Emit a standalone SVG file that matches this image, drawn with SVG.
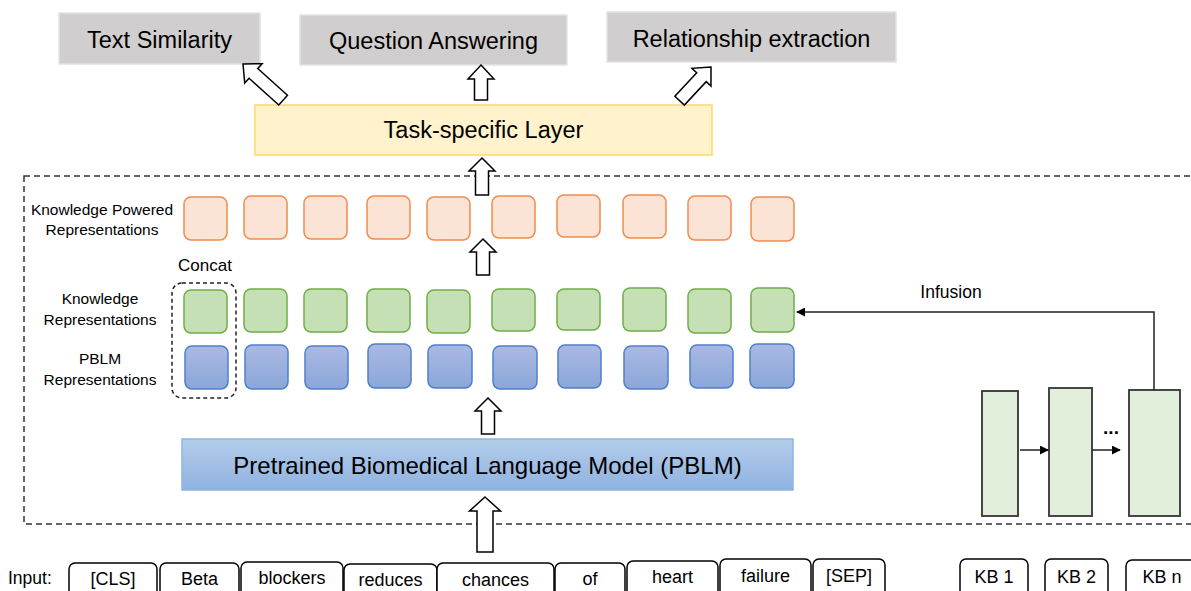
<svg xmlns="http://www.w3.org/2000/svg" width="1191" height="591" viewBox="0 0 1191 591">
  <defs>
    <linearGradient id="gradBlue" x1="0" y1="0" x2="0" y2="1">
      <stop offset="0" stop-color="#aab9e2"/>
      <stop offset="1" stop-color="#8ba6da"/>
    </linearGradient>
    <linearGradient id="gradModel" x1="0" y1="0" x2="0" y2="1">
      <stop offset="0" stop-color="#b4cdea"/>
      <stop offset="1" stop-color="#8fb2e0"/>
    </linearGradient>
    <marker id="tri" viewBox="0 0 10 10" refX="9" refY="5" markerWidth="9" markerHeight="9" markerUnits="userSpaceOnUse" orient="auto">
      <path d="M0,0 L10,5 L0,10 z" fill="#000"/>
    </marker>
  </defs>
  <style>
    text { font-family: "Liberation Sans", Arial, sans-serif; fill: #000; }
    .task { fill: #d0cece; stroke: #e3e3e3; stroke-width: 1.5; }
    .big { font-size: 23.5px; text-anchor: middle; }
    .lbl { font-size: 15.5px; text-anchor: middle; }
    .tok { fill: #fff; stroke: #000; stroke-width: 1.5; }
    .tokt { font-size: 18px; text-anchor: middle; }
    .orange { fill: #fbe4d5; stroke: #f08c4c; stroke-width: 1.5; }
    .green { fill: #c5e0b4; stroke: #70ad47; stroke-width: 1.5; }
    .blue { fill: url(#gradBlue); stroke: #4f7fcc; stroke-width: 1.5; }
    .kb { fill: #e2efda; stroke: #333; stroke-width: 1.8; }
    .barrow { fill: #fff; stroke: #000; stroke-width: 1.5; stroke-linejoin: miter; }
    .dash { fill: none; stroke: #333; stroke-width: 1.5; stroke-dasharray: 6 4; }
    .line { fill: none; stroke: #222; stroke-width: 1.5; }
  </style>

  <rect width="1191" height="591" fill="#fff"/>

  <!-- outer knowledge infusion frame -->
  <rect class="dash" x="24" y="176" width="1200" height="348"/>

  <!-- downstream tasks -->
  <g id="task-text-similarity">
    <rect class="task" x="59" y="13" width="201" height="51"/>
    <text class="big" x="159.5" y="48">Text Similarity</text>
  </g>
  <g id="task-question-answering">
    <rect class="task" x="300" y="15" width="267" height="50"/>
    <text class="big" x="433.5" y="49">Question Answering</text>
  </g>
  <g id="task-relationship-extraction">
    <rect class="task" x="607" y="12" width="289" height="50"/>
    <text class="big" x="751.5" y="47">Relationship extraction</text>
  </g>

  <g id="task-layer">
    <rect x="255" y="105" width="457" height="50" fill="#fff2cc" stroke="#ffd966" stroke-width="1.5"/>
    <text class="big" x="483.5" y="138">Task-specific Layer</text>
  </g>

  <!-- row labels -->
  <g id="labels">
    <text class="lbl" x="102" y="215">Knowledge Powered</text>
    <text class="lbl" x="102" y="235">Representations</text>
    <text class="lbl" x="100" y="304">Knowledge</text>
    <text class="lbl" x="100" y="325">Representations</text>
    <text class="lbl" x="100" y="364">PBLM</text>
    <text class="lbl" x="100" y="385">Representations</text>
    <text x="205" y="271" font-size="17" text-anchor="middle">Concat</text>
  </g>

  <!-- knowledge powered representations -->
  <g id="knowledge-powered-reps">
    <rect class="orange" x="184" y="197" width="43" height="43" rx="7"/>
    <rect class="orange" x="244" y="196" width="43" height="43" rx="7"/>
    <rect class="orange" x="304" y="196" width="43" height="43" rx="7"/>
    <rect class="orange" x="367" y="196" width="43" height="43" rx="7"/>
    <rect class="orange" x="427" y="197" width="43" height="43" rx="7"/>
    <rect class="orange" x="492" y="196" width="43" height="42" rx="7"/>
    <rect class="orange" x="557" y="195" width="43" height="42" rx="7"/>
    <rect class="orange" x="623" y="195" width="43" height="43" rx="7"/>
    <rect class="orange" x="688" y="196" width="43" height="44" rx="7"/>
    <rect class="orange" x="751" y="197" width="43" height="44" rx="7"/>
  </g>

  <!-- knowledge representations -->
  <g id="knowledge-reps">
    <rect class="green" x="184" y="290" width="43" height="43" rx="7"/>
    <rect class="green" x="244" y="289" width="43" height="43" rx="7"/>
    <rect class="green" x="304" y="289" width="43" height="43" rx="7"/>
    <rect class="green" x="367" y="289" width="43" height="43" rx="7"/>
    <rect class="green" x="427" y="290" width="43" height="43" rx="7"/>
    <rect class="green" x="492" y="289" width="43" height="42" rx="7"/>
    <rect class="green" x="557" y="289" width="43" height="41" rx="7"/>
    <rect class="green" x="623" y="288" width="43" height="43" rx="7"/>
    <rect class="green" x="688" y="289" width="43" height="44" rx="7"/>
    <rect class="green" x="751" y="288" width="43" height="44" rx="7"/>
  </g>

  <!-- PBLM representations -->
  <g id="pblm-reps">
    <rect class="blue" x="185" y="346" width="43" height="43" rx="7"/>
    <rect class="blue" x="245" y="345" width="43" height="44" rx="7"/>
    <rect class="blue" x="305" y="346" width="43" height="43" rx="7"/>
    <rect class="blue" x="368" y="344" width="43" height="44" rx="7"/>
    <rect class="blue" x="428" y="345" width="44" height="43" rx="7"/>
    <rect class="blue" x="493" y="346" width="44" height="43" rx="7"/>
    <rect class="blue" x="558" y="345" width="43" height="43" rx="7"/>
    <rect class="blue" x="624" y="346" width="44" height="43" rx="7"/>
    <rect class="blue" x="690" y="345" width="43" height="43" rx="7"/>
    <rect class="blue" x="750" y="344" width="44" height="44" rx="7"/>
  </g>

  <g id="concat-group">
    <rect x="172" y="283" width="64" height="115" rx="10" fill="none" stroke="#222" stroke-width="1.5" stroke-dasharray="4 3"/>
  </g>

  <g id="pblm">
    <rect x="182" y="439" width="611" height="51" fill="url(#gradModel)" stroke="#8eb4e3" stroke-width="1.5"/>
    <text x="487.5" y="474" font-size="24" text-anchor="middle">Pretrained Biomedical Language Model (PBLM)</text>
  </g>

  <!-- knowledge base encoders -->
  <g id="kb-encoder-1"><rect class="kb" x="982" y="391" width="36" height="125"/></g>
  <g id="kb-encoder-2"><rect class="kb" x="1049" y="388" width="43" height="128"/></g>
  <g id="kb-encoder-n"><rect class="kb" x="1129" y="390" width="51" height="126"/></g>
  <text x="1111" y="434" font-size="19" font-weight="bold" text-anchor="middle">...</text>
  <text x="951" y="298" font-size="17.5" text-anchor="middle">Infusion</text>

  <!-- input tokens -->
  <g id="input">
    <text x="8" y="584" font-size="17.5">Input:</text>
  </g>
  <g id="tok-cls"><rect class="tok" x="69" y="563" width="88" height="40" rx="6"/><text class="tokt" x="113" y="585">[CLS]</text></g>
  <g id="tok-beta"><rect class="tok" x="160" y="563" width="79" height="40" rx="6"/><text class="tokt" x="199.5" y="585">Beta</text></g>
  <g id="tok-blockers"><rect class="tok" x="241" y="562" width="102" height="40" rx="6"/><text class="tokt" x="292" y="584">blockers</text></g>
  <g id="tok-reduces"><rect class="tok" x="344" y="564" width="93" height="40" rx="6"/><text class="tokt" x="390.5" y="586">reduces</text></g>
  <g id="tok-chances"><rect class="tok" x="437" y="563" width="117" height="40" rx="6"/><text class="tokt" x="495.5" y="586">chances</text></g>
  <g id="tok-of"><rect class="tok" x="555" y="563" width="70" height="40" rx="6"/><text class="tokt" x="590" y="585">of</text></g>
  <g id="tok-heart"><rect class="tok" x="627" y="561" width="91" height="40" rx="6"/><text class="tokt" x="672.5" y="583">heart</text></g>
  <g id="tok-failure"><rect class="tok" x="720" y="559" width="91" height="40" rx="6"/><text class="tokt" x="765.5" y="582">failure</text></g>
  <g id="tok-sep"><rect class="tok" x="813" y="559" width="72" height="40" rx="6"/><text class="tokt" x="849" y="582">[SEP]</text></g>

  <g id="kb-1"><rect class="tok" x="960" y="559" width="68" height="40" rx="6"/><text class="tokt" x="994" y="583">KB 1</text></g>
  <g id="kb-2"><rect class="tok" x="1045" y="559" width="63" height="40" rx="6"/><text class="tokt" x="1076.5" y="583">KB 2</text></g>
  <g id="kb-n"><rect class="tok" x="1126" y="560" width="80" height="40" rx="6"/><text class="tokt" x="1162" y="583">KB n</text></g>

  <!-- connectors -->
  <g id="connectors">
    <polygon class="barrow" transform="translate(243,64) rotate(-48)" points="0,0 13,14 6.5,14 6.5,54 -6.5,54 -6.5,14 -13,14"/>
    <polygon class="barrow" points="481,65 494,79 487.5,79 487.5,100 474.5,100 474.5,79 468,79"/>
    <polygon class="barrow" transform="translate(711,67) rotate(43)" points="0,0 13,14 6.5,14 6.5,46 -6.5,46 -6.5,14 -13,14"/>
    <polygon class="barrow" points="482,158 495,171 488.5,171 488.5,195 475.5,195 475.5,171 469,171"/>
    <polygon class="barrow" points="483,239 496,252 489.5,252 489.5,275 476.5,275 476.5,252 470,252"/>
    <polygon class="barrow" points="488,398 501,411 494.5,411 494.5,434 481.5,434 481.5,411 475,411"/>
    <polygon class="barrow" points="485,497 500.5,511 493,511 493,552 477,552 477,511 469.5,511"/>
    <path class="line" d="M1154,390 V312 H797" marker-end="url(#tri)"/>
    <path class="line" d="M1020,450 H1048" marker-end="url(#tri)"/>
    <path class="line" d="M1092,450 H1120" marker-end="url(#tri)"/>
  </g>
</svg>
